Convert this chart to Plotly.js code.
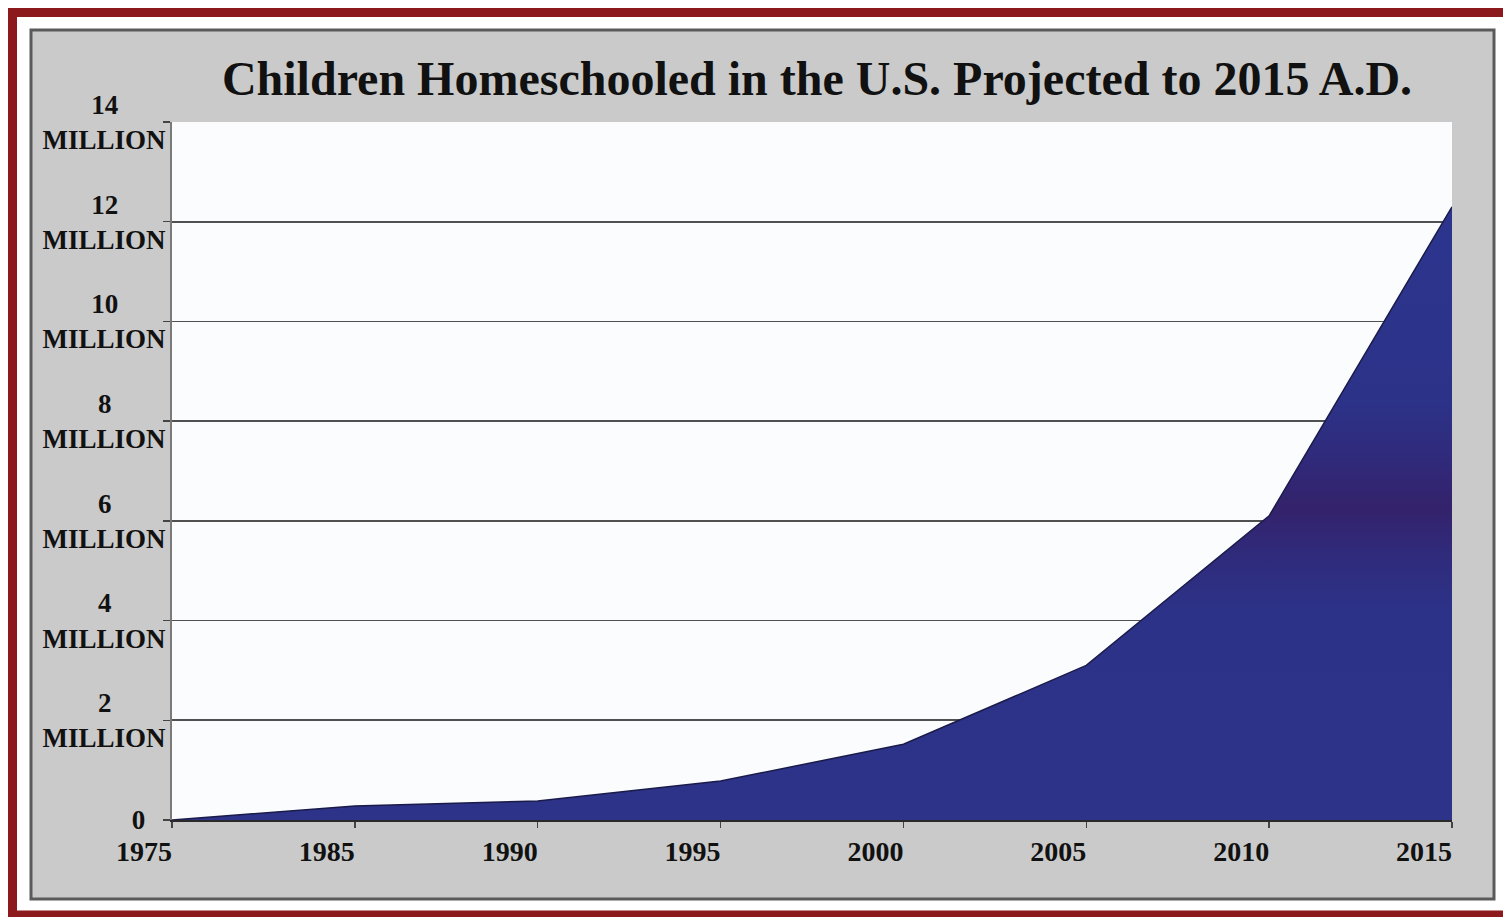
<!DOCTYPE html>
<html>
<head>
<meta charset="utf-8">
<script src="https://cdn.plot.ly/plotly-3.0.1.min.js"></script>
<style>
html,body{margin:0;padding:0;background:#ffffff;}
#chart{width:1503px;height:917px;}
</style>
</head>
<body>
<div id="chart"></div>
<script>
// ---- data ----
var years = ['1975','1985','1990','1995','2000','2005','2010','2015'];
var millions = [0.0, 0.28, 0.38, 0.78, 1.52, 3.1, 6.1, 12.3];
var yTickVals = [0, 2, 4, 6, 8, 10, 12, 14];
var yTickNums = ['0', '2', '4', '6', '8', '10', '12', '14'];
var yTickUnit = 'MILLION';
var titleText = 'Children Homeschooled in the U.S. Projected to 2015 A.D.';

// ---- layout helpers (pixel -> paper) ----
var W = 1503, H = 917;
var L = 172, R = 1452, T = 122, B = 820;
function px(x){ return (x - L) / (R - L); }
function py(y){ return (B - y) / (B - T); }

var NB = '\u00a0';
function pad(n){ var s=''; for(var i=0;i<n;i++) s+=NB; return s; }
var yTickText = yTickNums.map(function(n, i){
  if (i === 0) return n + pad(3);
  var p = n.length === 1 ? 8 : 7;
  return n + pad(p) + '<br>' + yTickUnit;
});

var font = 'Liberation Serif, Times New Roman, serif';

var trace = {
  type: 'scatter',
  x: years,
  y: millions,
  mode: 'lines',
  line: {color: '#1b1b4a', width: 1.5},
  fill: 'tozeroy',
  fillgradient: {
    type: 'vertical',
    start: 0,
    stop: 12.3,
    colorscale: [
      [0.0, '#2c3389'],
      [0.34, '#2c3288'],
      [0.44, '#302a7a'],
      [0.51, '#34226b'],
      [0.59, '#302a7b'],
      [0.68, '#2c3288'],
      [1.0, '#2c358e']
    ]
  },
  hoverinfo: 'skip'
};

var layout = {
  width: W, height: H,
  margin: {l: L, r: W - R, t: T, b: H - B, pad: 0},
  paper_bgcolor: '#ffffff',
  plot_bgcolor: '#fbfcfe',
  showlegend: false,
  title: {
    text: '<b>' + titleText + '</b>',
    font: {family: font, size: 48, color: '#111111'},
    xref: 'paper', x: px(817), xanchor: 'center',
    yref: 'container', y: 1 - 78 / H, yanchor: 'middle'
  },
  xaxis: {
    type: 'category',
    range: [0, 7],
    showgrid: false,
    zeroline: false,
    showline: true,
    linecolor: '#2a2a2a',
    linewidth: 2,
    ticks: 'outside',
    ticklen: 6,
    tickwidth: 1.5,
    tickcolor: '#444444',
    ticklabelshift: -28,
    ticklabelstandoff: -1,
    tickfont: {family: font, size: 28, color: '#111111'},
    tickprefix: '<b>', ticksuffix: '</b>'
  },
  yaxis: {
    range: [0, 14],
    tickmode: 'array',
    tickvals: yTickVals,
    ticktext: yTickText.map(function(t){ return '<b>' + t.replace('<br>', '</b><br><b>') + '</b>'; }),
    showgrid: false,
    zeroline: false,
    showline: true,
    linecolor: '#7a7a7a',
    linewidth: 2,
    ticks: 'outside',
    ticklen: 7,
    tickwidth: 1.5,
    tickcolor: '#444444',
    ticklabelstandoff: -8,
    tickfont: {family: font, size: 27, color: '#111111'},
    minor: {
      tickmode: 'array',
      tickvals: yTickVals.slice(1, yTickVals.length - 1),
      ticks: '',
      showgrid: true,
      gridcolor: '#505050',
      gridwidth: 1.6
    }
  },
  shapes: [
    // red outer frame
    {type: 'rect', xref: 'paper', yref: 'paper', layer: 'below',
     x0: px(12.5), x1: px(1520), y0: py(12.5), y1: py(915),
     line: {color: '#8c1a1c', width: 9}, fillcolor: 'rgba(0,0,0,0)'},
    // gray panel
    {type: 'rect', xref: 'paper', yref: 'paper', layer: 'below',
     x0: px(31), x1: px(1494), y0: py(30), y1: py(899),
     line: {color: '#5a5a5a', width: 3}, fillcolor: '#cacaca'},
    // white plot area
    {type: 'rect', xref: 'paper', yref: 'paper', layer: 'below',
     x0: 0, x1: 1, y0: 0, y1: 1,
     line: {width: 0}, fillcolor: '#fbfcfe'}
  ]
};

Plotly.newPlot('chart', [trace], layout, {staticPlot: true, displayModeBar: false});
</script>
</body>
</html>
